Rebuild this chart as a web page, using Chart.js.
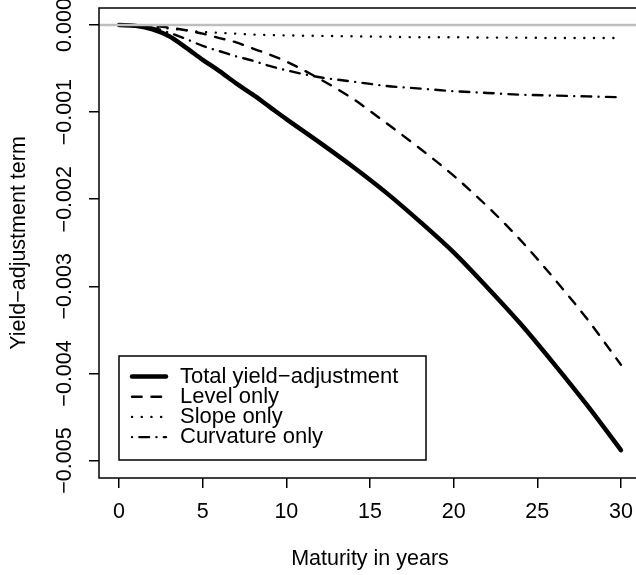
<!DOCTYPE html>
<html>
<head>
<meta charset="utf-8">
<script src="https://cdn.jsdelivr.net/npm/chart.js@4.4.0/dist/chart.umd.min.js"></script>
<style>
html, body { margin:0; padding:0; overflow:hidden; background:#fff; }
#wrap { width:645px; height:575px; }
</style>
</head>
<body>
<div id="wrap"><canvas id="c" width="645" height="575"></canvas></div>
<script>
// maturities in years
const maturity = [0,1,2,3,4,5,6,7,8,9,10,12,14,16,18,20,22,24,26,28,30];
// yield-adjustment terms
const totalAdj = [0,-0.00001,-0.00005,-0.00013,-0.00026,-0.0004,-0.00053,-0.00067,-0.0008,-0.00094,-0.00108,-0.00135,-0.00163,-0.00193,-0.00226,-0.00261,-0.00301,-0.00343,-0.00389,-0.00437,-0.00488];
const levelOnly = [0,-0.000002,-0.00001,-0.00003,-0.00006,-0.0001,-0.00015,-0.0002,-0.00027,-0.00034,-0.00042,-0.00062,-0.00085,-0.00113,-0.00142,-0.00173,-0.00208,-0.00247,-0.00291,-0.00338,-0.0039];
const slopeOnly = [0,-0.000004,-0.00002,-0.00004,-0.00006,-0.00008,-0.00009,-0.0001,-0.00011,-0.000115,-0.00012,-0.000125,-0.00013,-0.000135,-0.00014,-0.00014,-0.000145,-0.000145,-0.00015,-0.00015,-0.00015];
const curvatureOnly = [0,-0.000005,-0.00003,-0.00009,-0.00016,-0.00024,-0.0003,-0.00036,-0.00041,-0.00047,-0.00052,-0.0006,-0.00065,-0.0007,-0.00073,-0.00076,-0.00078,-0.0008,-0.00081,-0.00082,-0.00083];

const xTicks = [0,5,10,15,20,25,30];
const yTicks = [-0.005,-0.004,-0.003,-0.002,-0.001,0];
const yTickLabels = ['\u22120.005','\u22120.004','\u22120.003','\u22120.002','\u22120.001','0.000'];
const xRange = [-1.2, 31.2];
const yRange = [-0.0052, 0.000195];

const FONT = '"Liberation Sans", Arial, Helvetica, sans-serif';
Chart.defaults.font.family = FONT;
Chart.defaults.font.size = 21.5;
Chart.defaults.color = '#000';

function pts(ys) {
	return maturity.map((m, i) => ({x: m, y: ys[i]}));
}

// box round the plot region
const plotBox = {
	id: 'plotBox',
	afterDatasetsDraw(chart) {
		const a = chart.chartArea, ctx = chart.ctx;
		ctx.save();
		ctx.lineWidth = 1.5;
		ctx.strokeStyle = '#000';
		ctx.strokeRect(a.left, a.top, a.right - a.left, a.bottom - a.top);
		ctx.restore();
	}
};

// R style legend with a frame
const legendBox = {
	id: 'legendBox',
	afterDraw(chart) {
		const ctx = chart.ctx;
		ctx.save();
		ctx.lineWidth = 1.5;
		ctx.strokeStyle = '#000';
		ctx.strokeRect(119, 356, 307, 104);
		ctx.font = '22px ' + FONT;
		ctx.textBaseline = 'middle';
		ctx.fillStyle = '#000';
		chart.data.datasets.filter(d => d.label).forEach((d, i) => {
			const y = 376.5 + i * 20.2;
			ctx.beginPath();
			ctx.setLineDash(d.borderDash || []);
			ctx.lineWidth = d.borderWidth;
			ctx.lineCap = 'round';
			ctx.strokeStyle = d.borderColor;
			ctx.moveTo(132, y);
			ctx.lineTo(166, y);
			ctx.stroke();
			ctx.setLineDash([]);
			ctx.fillText(d.label, 180, y);
		});
		ctx.restore();
	}
};

const lineBase = {pointRadius: 0, borderColor: '#000', borderCapStyle: 'round', borderJoinStyle: 'round', cubicInterpolationMode: 'monotone', order: 1};

new Chart(document.getElementById('c'), {
	type: 'line',
	data: {
		datasets: [
			Object.assign({}, lineBase, {label: 'Total yield\u2212adjustment', data: pts(totalAdj), borderWidth: 4.5}),
			Object.assign({}, lineBase, {label: 'Level only', data: pts(levelOnly), borderWidth: 2.4, borderDash: [9.7, 9.7]}),
			Object.assign({}, lineBase, {label: 'Slope only', data: pts(slopeOnly), borderWidth: 2.4, borderDash: [0.1, 9.6]}),
			Object.assign({}, lineBase, {label: 'Curvature only', data: pts(curvatureOnly), borderWidth: 2.4, borderDash: [0.1, 7.3, 9.7, 7.3]}),
			{label: '', data: [{x: xRange[0], y: 0}, {x: xRange[1], y: 0}], borderColor: '#BEBEBE', borderWidth: 2.4, pointRadius: 0, order: 0}
		]
	},
	options: {
		responsive: false,
		animation: false,
		devicePixelRatio: 1,
		layout: {padding: {top: 8, right: 4, bottom: 0, left: 0}},
		plugins: {legend: {display: false}, tooltip: {enabled: false}},
		scales: {
			x: {
				type: 'linear',
				min: xRange[0], max: xRange[1],
				afterBuildTicks: s => { s.ticks = xTicks.map(v => ({value: v})); },
				afterFit: s => { s.height = 97; s.paddingLeft = 0; s.paddingRight = 0; },
				ticks: {padding: 10.8, maxRotation: 0, autoSkip: false},
				grid: {drawOnChartArea: false, drawTicks: true, tickLength: 10, color: '#000', lineWidth: 1.5},
				border: {display: false},
				title: {display: true, text: 'Maturity in years', padding: {top: 0, bottom: 3.5}}
			},
			y: {
				type: 'linear',
				min: yRange[0], max: yRange[1],
				afterBuildTicks: s => { s.ticks = yTicks.map(v => ({value: v})); },
				afterFit: s => { s.width = 99; s.paddingTop = 0; s.paddingBottom = 0; },
				ticks: {
					minRotation: 90, crossAlign: 'center', padding: -9.2, autoSkip: false,
					callback: v => yTickLabels[yTicks.indexOf(v)]
				},
				grid: {drawOnChartArea: false, drawTicks: true, tickLength: 10, color: '#000', lineWidth: 1.5},
				border: {display: false},
				title: {display: true, text: 'Yield\u2212adjustment term', padding: {top: 6.1, bottom: 0}}
			}
		}
	},
	plugins: [plotBox, legendBox]
});
</script>
</body>
</html>
